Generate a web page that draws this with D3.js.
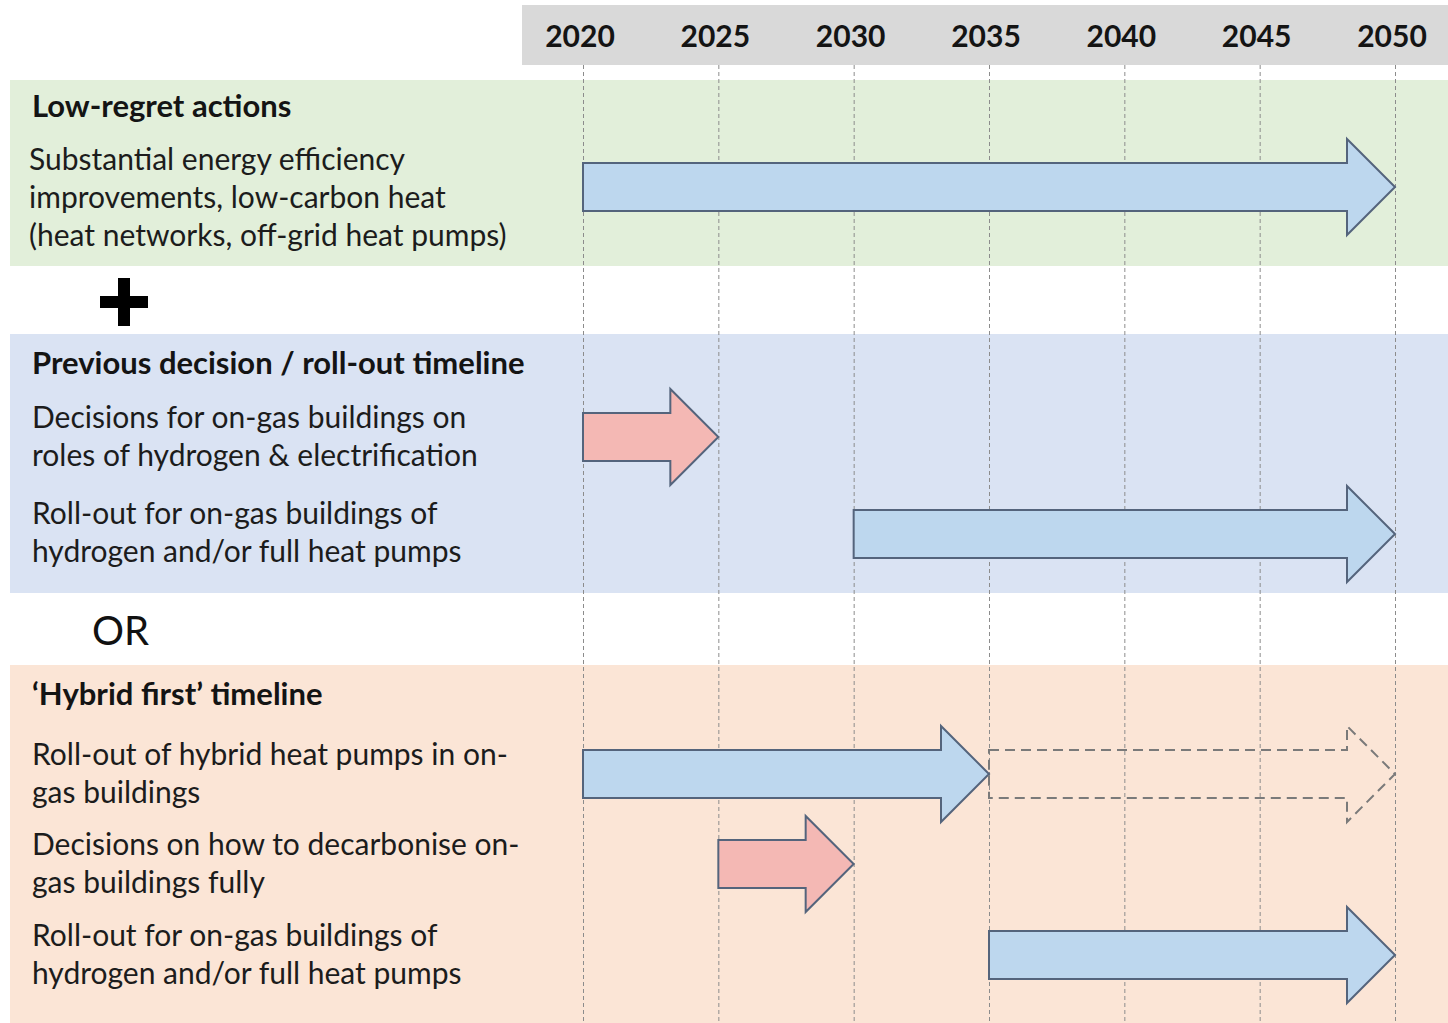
<!DOCTYPE html>
<html lang="en">
<head>
<meta charset="UTF-8">
<title>Heat decarbonisation timelines</title>
<style>
  body { margin: 0; background: #fff; font-family: "Lato", "Open Sans", sans-serif; }
  .year { font-weight: 700; font-size: 30px; fill: #141414; text-anchor: middle; }
  .title { font-weight: 700; font-size: 31px; fill: #141414; }
  .desc { font-size: 30px; fill: #1c1c1c; }
  .grid line { stroke: #8c8c8c; stroke-width: 1; stroke-dasharray: 4,3; }
  .grid path { display: none; }
</style>
<script src="https://cdn.jsdelivr.net/npm/d3@7"></script>
</head>
<body>
<svg id="chart" width="1448" height="1023"></svg>
<script>
// --- data ---
var years = [2020, 2025, 2030, 2035, 2040, 2045, 2050];

var sectionTitles = ["Low-regret actions", "Previous decision / roll-out timeline", "\u2018Hybrid first\u2019 timeline"];

var taskLabels = [
  ["Substantial energy efficiency", "improvements, low-carbon heat", "(heat networks, off-grid heat pumps)"],
  ["Decisions for on-gas buildings on", "roles of hydrogen & electrification"],
  ["Roll-out for on-gas buildings of", "hydrogen and/or full heat pumps"],
  ["Roll-out of hybrid heat pumps in on-", "gas buildings"],
  ["Decisions on how to decarbonise on-", "gas buildings fully"],
  ["Roll-out for on-gas buildings of", "hydrogen and/or full heat pumps"]
];

// arrows: which task row, from, to, kind
var arrowTask  = [0, 1, 2, 3, 3, 4, 5];
var arrowStart = [2020, 2020, 2030, 2020, 2035, 2025, 2035];
var arrowEnd   = [2050, 2025, 2050, 2035, 2050, 2030, 2050];
var arrowKind  = ["rollout", "decision", "rollout", "rollout", "possible", "decision", "rollout"];

var joiners = ["+", "OR"];

// --- layout ---
var W = 1448, H = 1023;
var bandTop = [80, 334, 665], bandBottom = [266, 593, 1023];
var titleY = [117, 374, 705];
var taskY = [170, 428, 524, 765, 855, 946];     // baseline of first label line
var arrowY = [187, 437, 534, 774, 864, 955];    // arrow centre per task row
var lineGap = 38;

var fills = { rollout: "#bdd7ee", decision: "#f4b8b4", possible: "none" };
var bandColors = ["#e2efda", "#dae3f3", "#fbe5d6"];

var svg = d3.select("#chart");

var x = d3.scaleLinear().domain([2020, 2050]).range([583, 1395]);

// header
svg.append("rect").attr("x", 522).attr("y", 5).attr("width", W - 522).attr("height", 60).attr("fill", "#d9d9d9");

svg.selectAll("text.year")
    .data(years)
  .enter().append("text")
    .attr("class", "year")
    .attr("x", function(d) { return x(d) - 3; })
    .attr("y", 47)
    .text(function(d) { return d; });

// coloured bands
svg.selectAll("rect.band")
    .data(sectionTitles)
  .enter().append("rect")
    .attr("class", "band")
    .attr("x", 10)
    .attr("y", function(d, i) { return bandTop[i]; })
    .attr("width", W - 10)
    .attr("height", function(d, i) { return bandBottom[i] - bandTop[i]; })
    .attr("fill", function(d, i) { return bandColors[i]; });

// dashed year lines
svg.append("g")
    .attr("class", "grid")
    .attr("transform", "translate(0,65)")
    .call(d3.axisBottom(x).tickValues(years).tickSize(H - 65).tickFormat(""));

// titles & labels
svg.selectAll("text.title")
    .data(sectionTitles)
  .enter().append("text")
    .attr("class", "title")
    .attr("x", 32)
    .attr("y", function(d, i) { return titleY[i]; })
    .text(function(d) { return d; });

taskLabels.forEach(function(lines, i) {
  var x0 = i === 0 ? 29 : 32;
  var t = svg.append("text").attr("class", "desc").attr("x", x0).attr("y", taskY[i]);
  lines.forEach(function(line, j) {
    t.append("tspan").attr("x", x0).attr("y", taskY[i] + j * lineGap).text(line);
  });
});

// "+" and "OR"
var plus = svg.append("g").attr("transform", "translate(124,302)");
plus.append("rect").attr("x", -24).attr("y", -6).attr("width", 48).attr("height", 12).attr("fill", "#000");
plus.append("rect").attr("x", -6).attr("y", -24).attr("width", 12).attr("height", 48).attr("fill", "#000");
svg.append("text").attr("x", 92).attr("y", 645).attr("font-size", 40).attr("fill", "#111").text(joiners[1]);

// arrows
function arrowPath(x0, x1, cy) {
  var bh = 24, hh = 48, hl = 48;
  return "M" + x0 + "," + (cy - bh) + "L" + (x1 - hl) + "," + (cy - bh) + "L" + (x1 - hl) + "," + (cy - hh) +
    "L" + x1 + "," + cy + "L" + (x1 - hl) + "," + (cy + hh) + "L" + (x1 - hl) + "," + (cy + bh) +
    "L" + x0 + "," + (cy + bh) + "Z";
}

svg.selectAll("path.arrow")
    .data(arrowKind)
  .enter().append("path")
    .attr("class", "arrow")
    .attr("d", function(d, i) { return arrowPath(x(arrowStart[i]), x(arrowEnd[i]), arrowY[arrowTask[i]]); })
    .attr("fill", function(d) { return fills[d]; })
    .attr("stroke", function(d) { return d === "possible" ? "#7a7a7a" : "#54647c"; })
    .attr("stroke-width", 2)
    .attr("stroke-dasharray", function(d) { return d === "possible" ? "10,6" : null; })
    .attr("stroke-linejoin", "miter");
</script>
</body>
</html>
